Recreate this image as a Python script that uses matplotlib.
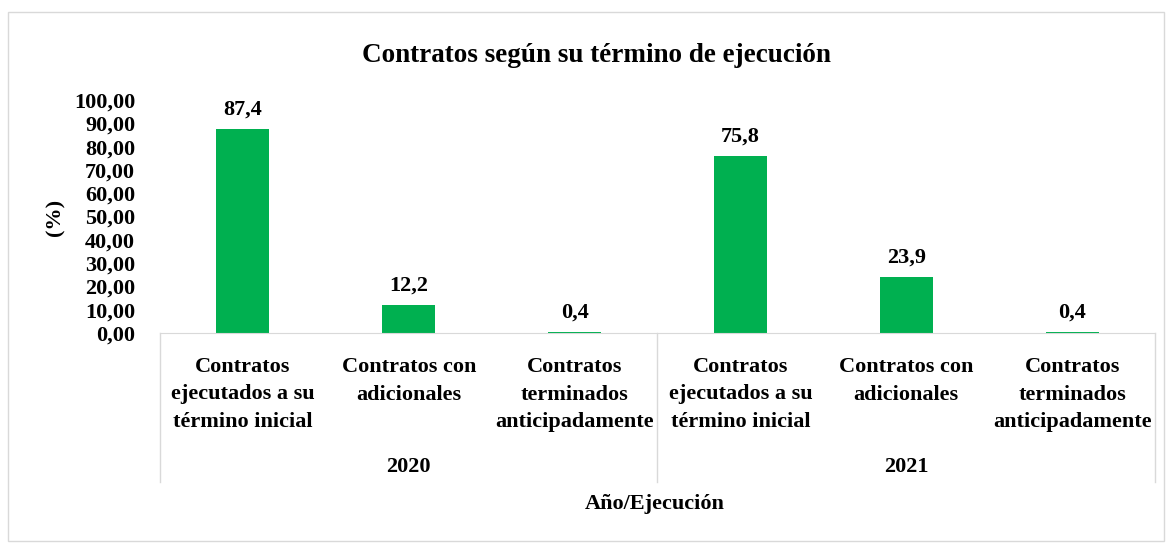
import matplotlib
matplotlib.use("Agg")
import matplotlib.pyplot as plt
import matplotlib.transforms as mtransforms
from matplotlib.patches import Rectangle

# data
years = ["2020", "2021"]
categories = ["Contratos\nejecutados a su\ntérmino inicial",
              "Contratos con\nadicionales",
              "Contratos\nterminados\nanticipadamente"]
values_2020 = [87.4, 12.2, 0.4]
values_2021 = [75.8, 23.9, 0.4]
value_labels = ["87,4", "12,2", "0,4", "75,8", "23,9", "0,4"]
y_ticks = [0, 10, 20, 30, 40, 50, 60, 70, 80, 90, 100]

plt.rcParams['font.family'] = ['Liberation Serif', 'DejaVu Serif']
plt.rcParams['font.weight'] = 'bold'

green = "#00b050"
gray = "#d9d9d9"

fig = plt.figure(figsize=(11.72, 5.43), dpi=100)
fig.patches.append(Rectangle((8 / 1172, 2 / 543), 1156 / 1172, 529 / 543,
                             transform=fig.transFigure, fill=False,
                             edgecolor=gray, linewidth=1))
ax = fig.add_axes([160 / 1172, 1 - 333 / 543, 995 / 1172, 233 / 543])

values = values_2020 + values_2021
xs = list(range(len(values)))
ax.bar(xs, values, width=0.32, color=green)
for x, v, lab in zip(xs, values, value_labels):
    ax.text(x, v + 4, lab, ha='center', va='bottom', fontsize=16, fontweight='bold')

ax.set_xlim(-0.5, len(values) - 0.5)
ax.set_ylim(0, 100)
ax.set_yticks(y_ticks)
ax.set_yticklabels([f"{t:.2f}".replace(".", ",") for t in y_ticks], fontsize=16, fontweight='bold')
ax.tick_params(axis='y', length=0, pad=18)
ax.set_xticks([])
for s in ['top', 'right', 'left']:
    ax.spines[s].set_visible(False)
ax.spines['bottom'].set_color(gray)

trans = mtransforms.blended_transform_factory(ax.transData, fig.transFigure)
cat_labels = categories + categories
for x, lab in zip(xs, cat_labels):
    ax.text(x, 1 - 357 / 543, lab, transform=trans, ha='center', va='top',
            fontsize=16, fontweight='bold', linespacing=1.5)
for i, yr in enumerate(years):
    ax.text(i * 3 + 1, 1 - 467 / 543, yr, transform=trans, ha='center', va='center',
            fontsize=16, fontweight='bold')
for xb in [-0.5, 2.5, 5.5]:
    ax.plot([xb, xb], [1 - 333 / 543, 1 - 482 / 543], transform=trans,
            color=gray, linewidth=1, clip_on=False)

fig.text(655 / 1172, 1 - 504 / 543, "Año/Ejecución", ha='center', va='center',
         fontsize=16, fontweight='bold')
fig.text(596 / 1172, 1 - 56 / 543, "Contratos según su término de ejecución",
         ha='center', va='center', fontsize=19.5, fontweight='bold')
fig.text(55 / 1172, 1 - 217 / 543, "(%)", ha='center', va='center', rotation=90,
         fontsize=16, fontweight='bold')

fig.savefig("out.png", dpi=100)
